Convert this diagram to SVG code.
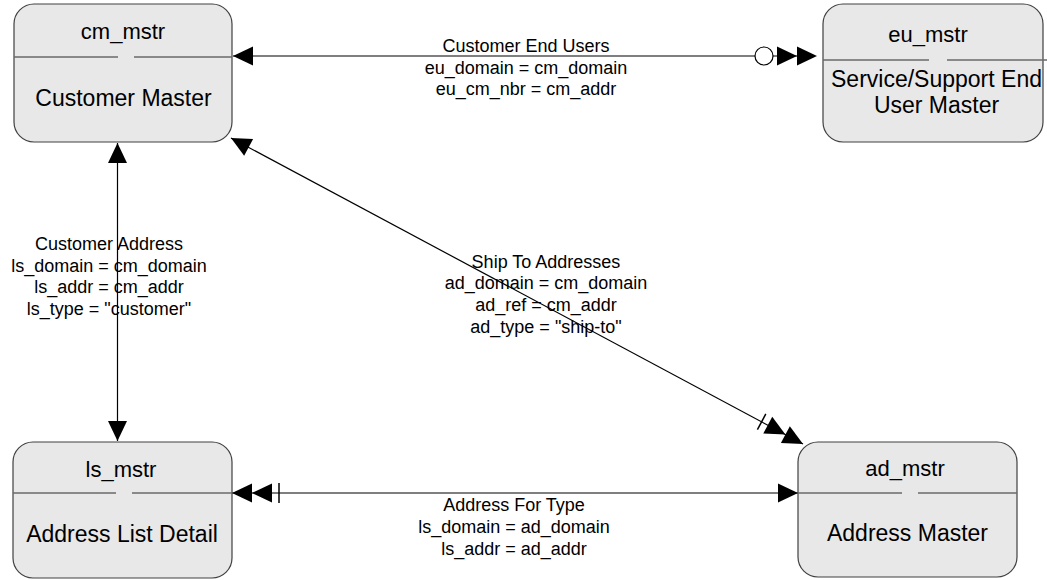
<svg xmlns="http://www.w3.org/2000/svg" xmlns:xlink="http://www.w3.org/1999/xlink" width="1047" height="580" viewBox="0 0 1047 580">
<style>
  text { font-family: "Liberation Sans", Arial, sans-serif; fill: #000; text-anchor: middle; }
  .box { fill: #e8e8e8; stroke: #404040; stroke-width: 1.2; }
  .div { stroke: #6a6a6a; stroke-width: 1.5; fill: none; }
  .title { font-size: 22px; }
  .body { font-size: 23px; }
  .lbl { font-size: 18px; }
  .conn { stroke: #000; stroke-width: 1.2; fill: none; }
  .head { fill: #000; stroke: none; }
  .bar { stroke: #000; stroke-width: 1.5; }
</style>
<defs>
  <path id="tri" class="head" d="M0,0 L-20,-9.5 L-20,9.5 Z"/>
</defs>
<rect width="1047" height="580" fill="#fff"/>

<g id="connectors">
  <!-- Customer End Users -->
  <line class="conn" x1="233" y1="56" x2="797" y2="56"/>
  <use xlink:href="#tri" transform="translate(233,56) rotate(180)"/>
  <circle cx="764" cy="56" r="9" fill="#fff" stroke="#000" stroke-width="1.2"/>
  <use xlink:href="#tri" transform="translate(797,56)"/>
  <use xlink:href="#tri" transform="translate(817,56)"/>
  <text class="lbl" x="526" y="52">Customer End Users</text>
  <text class="lbl" x="526" y="74">eu_domain = cm_domain</text>
  <text class="lbl" x="526" y="95">eu_cm_nbr = cm_addr</text>

  <!-- Customer Address -->
  <line class="conn" x1="117.5" y1="143" x2="117.5" y2="441"/>
  <use xlink:href="#tri" transform="translate(117.5,143) rotate(-90)"/>
  <use xlink:href="#tri" transform="translate(117.5,441) rotate(90)"/>
  <text class="lbl" x="109" y="250">Customer Address</text>
  <text class="lbl" x="109" y="272">ls_domain = cm_domain</text>
  <text class="lbl" x="109" y="293">ls_addr = cm_addr</text>
  <text class="lbl" x="109" y="315">ls_type = "customer"</text>

  <!-- Ship To Addresses -->
  <line class="conn" x1="231" y1="138" x2="803" y2="444"/>
  <use xlink:href="#tri" transform="translate(231,138) rotate(208.15)"/>
  <use xlink:href="#tri" transform="translate(803,444) rotate(28.15)"/>
  <use xlink:href="#tri" transform="translate(785.4,434.6) rotate(28.15)"/>
  <line class="bar" x1="765.8" y1="413.9" x2="757.4" y2="429.7"/>
  <text class="lbl" x="546" y="268">Ship To Addresses</text>
  <text class="lbl" x="546" y="289">ad_domain = cm_domain</text>
  <text class="lbl" x="546" y="311">ad_ref = cm_addr</text>
  <text class="lbl" x="546" y="333">ad_type = "ship-to"</text>

  <!-- Address For Type -->
  <line class="conn" x1="232" y1="493" x2="798" y2="493"/>
  <use xlink:href="#tri" transform="translate(232,493) rotate(180)"/>
  <use xlink:href="#tri" transform="translate(252,493) rotate(180)"/>
  <line class="bar" x1="279" y1="483" x2="279" y2="503"/>
  <use xlink:href="#tri" transform="translate(798,493)"/>
  <text class="lbl" x="514" y="511">Address For Type</text>
  <text class="lbl" x="514" y="533">ls_domain = ad_domain</text>
  <text class="lbl" x="514" y="555">ls_addr = ad_addr</text>
</g>

<g id="cm_mstr">
  <rect class="box" x="14" y="4" width="218" height="138" rx="20" ry="20"/>
  <path class="div" d="M14,57 H118 M134,57 H232"/>
  <text class="title" x="123" y="39">cm_mstr</text>
  <text class="body" x="123.5" y="106">Customer Master</text>
</g>

<g id="eu_mstr">
  <rect class="box" x="823" y="4" width="220" height="138" rx="20" ry="20"/>
  <path class="div" d="M823,60 H929 M947,60 H1047"/>
  <text class="title" x="928" y="42">eu_mstr</text>
  <text class="body" x="936.5" y="87">Service/Support End</text>
  <text class="body" x="936.5" y="113">User Master</text>
</g>

<g id="ls_mstr">
  <rect class="box" x="13" y="442" width="219" height="136" rx="20" ry="20"/>
  <path class="div" d="M13,493 H116 M132,493 H232"/>
  <text class="title" x="121" y="477">ls_mstr</text>
  <text class="body" x="122" y="542">Address List Detail</text>
</g>

<g id="ad_mstr">
  <rect class="box" x="798" y="442" width="219" height="135" rx="20" ry="20"/>
  <path class="div" d="M798,493 H902 M918,493 H1017"/>
  <text class="title" x="905" y="476">ad_mstr</text>
  <text class="body" x="907.5" y="541">Address Master</text>
</g>
</svg>
